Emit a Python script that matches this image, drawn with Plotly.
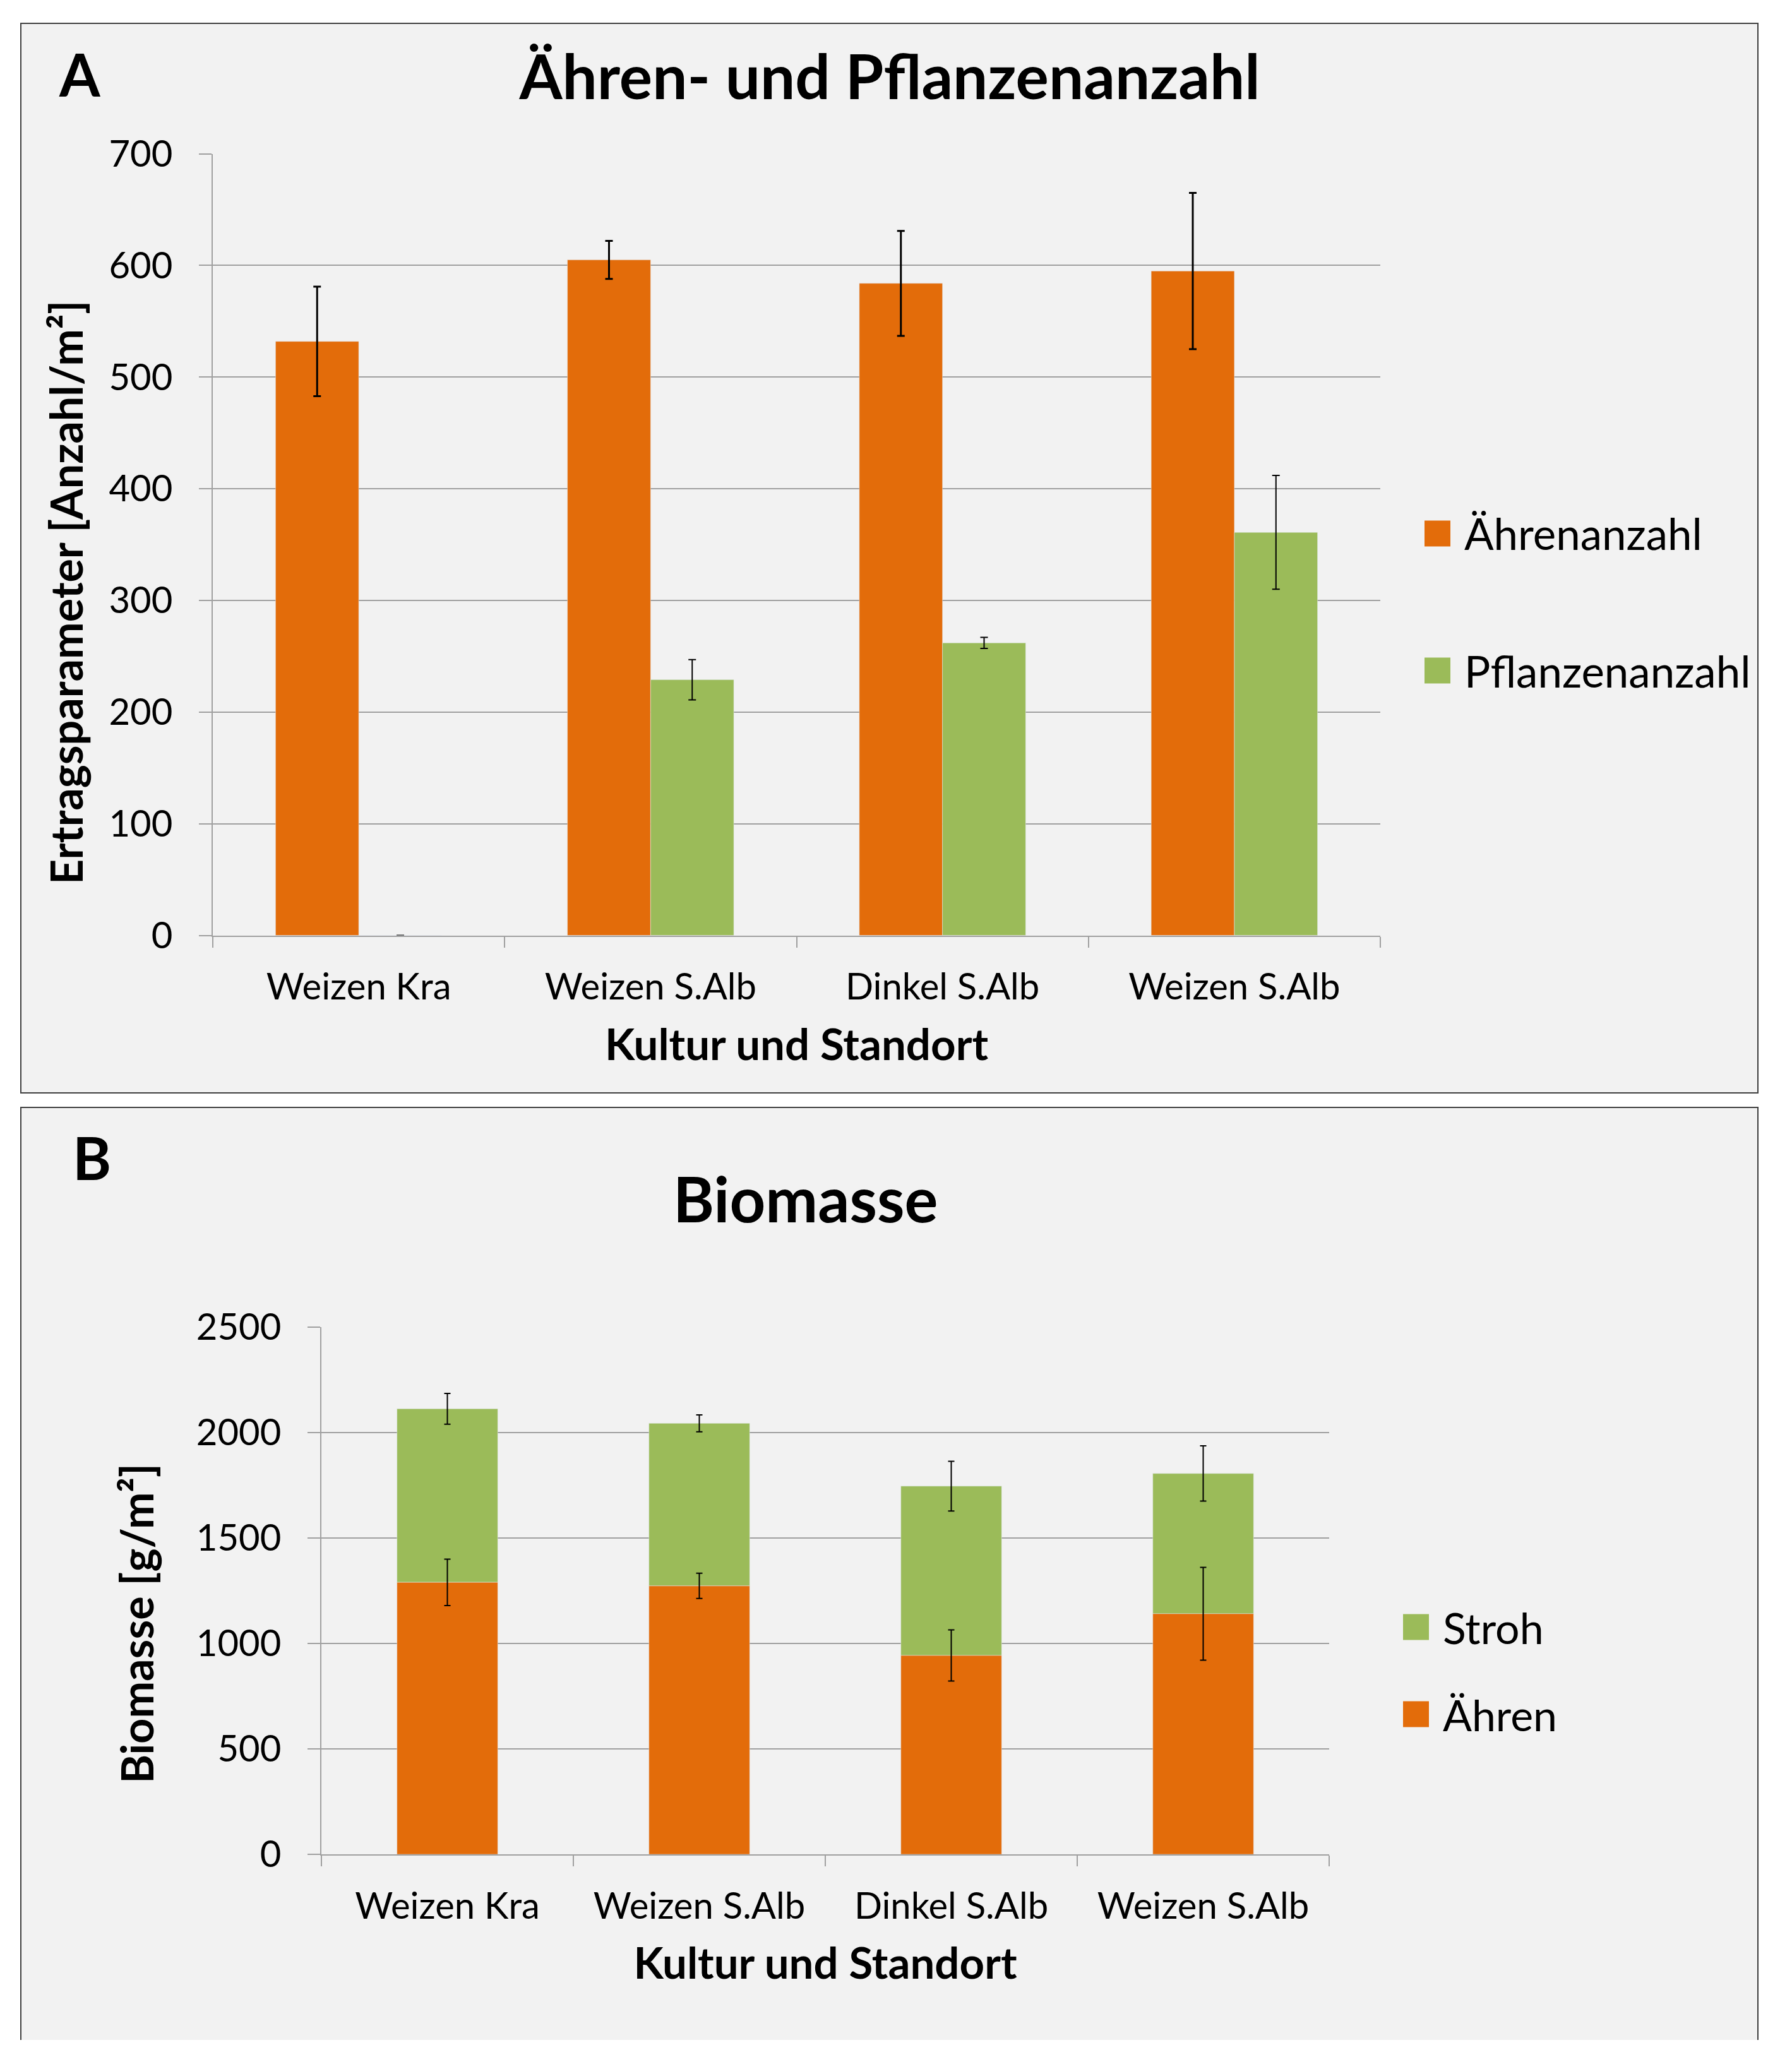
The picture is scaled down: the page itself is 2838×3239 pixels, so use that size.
import plotly.graph_objects as go

# ---------------- data ----------------
categories = ["Weizen Kra", "Weizen S.Alb", "Dinkel S.Alb", "Weizen S.Alb"]

aehrenanzahl = [532, 605, 584, 595]
aehrenanzahl_err = [49, 17, 47, 70]
pflanzenanzahl = [0, 229, 262, 361]
pflanzenanzahl_err = [0, 18, 5, 51]

biomasse_aehren = [1290, 1273, 943, 1141]
biomasse_aehren_err = [110, 60, 121, 220]
biomasse_stroh = [823, 771, 803, 665]
biomasse_stroh_err = [73, 40, 118, 131]

yticks_a = [0, 100, 200, 300, 400, 500, 600, 700]
yticks_b = [0, 500, 1000, 1500, 2000, 2500]

# ---------------- style ----------------
PAGE_W, PAGE_H = 2838, 3239
OFF = 8                       # default body margin of the html page
W, H = PAGE_W - 2 * OFF, PAGE_H - 2 * OFF
ORANGE = "#E36C0A"
GREEN = "#9BBB59"
GRID = "#a0a0a0"
PANEL = "#f2f2f2"
FONT = "Lato"


def px(x):
    """page pixel x -> paper fraction"""
    return (x - OFF) / W


def py(y):
    """page pixel y -> paper fraction"""
    return 1 - (y - OFF) / H


x_idx = list(range(len(categories)))
boundaries = [i - 0.5 for i in range(len(categories) + 1)]

fig = go.Figure()

# Panel A: grouped bars
fig.add_trace(go.Bar(
    x=x_idx, y=aehrenanzahl, name="Ährenanzahl", marker_color=ORANGE,
    width=0.285, offset=-0.285, showlegend=False,
    error_y=dict(type="data", array=aehrenanzahl_err, color="black", thickness=3, width=6),
    xaxis="x", yaxis="y"))
fig.add_trace(go.Bar(
    x=x_idx, y=pflanzenanzahl, name="Pflanzenanzahl", marker_color=GREEN,
    width=0.285, offset=0, showlegend=False,
    error_y=dict(type="data", array=pflanzenanzahl_err, color="black", thickness=2, width=6),
    xaxis="x", yaxis="y"))

# Panel B: stacked bars (Stroh drawn first so the Ähren error bars stay visible)
fig.add_trace(go.Bar(
    x=x_idx, y=biomasse_stroh, base=biomasse_aehren, name="Stroh", marker_color=GREEN,
    width=0.4, offset=-0.2, showlegend=False,
    error_y=dict(type="data", array=biomasse_stroh_err, color="black", thickness=2, width=5),
    xaxis="x2", yaxis="y2"))
fig.add_trace(go.Bar(
    x=x_idx, y=biomasse_aehren, name="Ähren", marker_color=ORANGE,
    width=0.4, offset=-0.2, showlegend=False,
    error_y=dict(type="data", array=biomasse_aehren_err, color="black", thickness=2, width=5),
    xaxis="x2", yaxis="y2"))

tickfont = dict(family=FONT, size=58, color="black")


def xaxis_cfg(domain, anchor, title):
    return dict(
        domain=domain, anchor=anchor, range=[-0.5, len(categories) - 0.5],
        tickmode="array", tickvals=x_idx, ticktext=categories, ticks="",
        tickfont=tickfont, ticklabelstandoff=30,
        showline=True, linecolor=GRID, linewidth=2,
        showgrid=False, zeroline=False,
        minor=dict(tickmode="array", tickvals=boundaries, ticks="outside",
                   ticklen=17, tickwidth=2, tickcolor=GRID, showgrid=False),
        title=dict(text=title, font=dict(family=FONT, size=69, color="black", weight="bold"),
                   standoff=36),
        automargin=False,
    )


def yaxis_cfg(domain, anchor, rng, ticks):
    return dict(
        domain=domain, anchor=anchor, range=rng,
        tickmode="array", tickvals=ticks, ticks="outside", ticklen=20,
        tickwidth=2, tickcolor=GRID,
        tickfont=tickfont, ticklabelstandoff=30,
        showline=True, linecolor=GRID, linewidth=2,
        showgrid=True, gridcolor=GRID, gridwidth=2, zeroline=False,
        automargin=False,
    )


# panel geometry (page pixels)
A_x0, A_x1, A_top, A_bot = 337, 2186, 243.6, 1481.6
B_x0, B_x1, B_top, B_bot = 509, 2105, 2102, 2937

shapes = [
    dict(type="rect", xref="paper", yref="paper", x0=px(33), x1=px(2784), y0=py(37), y1=py(1731),
         fillcolor=PANEL, line=dict(color="#404040", width=2), layer="below"),
    dict(type="rect", xref="paper", yref="paper", x0=px(33), x1=px(2784), y0=py(1754), y1=py(PAGE_H + 20),
         fillcolor=PANEL, line=dict(color="#404040", width=2), layer="below"),
]

legend_items = [
    ("Ährenanzahl", ORANGE, 2256, 845, 69),
    ("Pflanzenanzahl", GREEN, 2256, 1062, 69),
    ("Stroh", GREEN, 2222, 2577, 68),
    ("Ähren", ORANGE, 2222, 2715, 68),
]
annotations = [
    dict(text="A", x=px(91), y=py(117), xref="paper", yref="paper", xanchor="left", yanchor="middle",
         showarrow=False, font=dict(family=FONT, size=93, color="black", weight="bold")),
    dict(text="B", x=px(113), y=py(1833), xref="paper", yref="paper", xanchor="left", yanchor="middle",
         showarrow=False, font=dict(family=FONT, size=93, color="black", weight="bold")),
    dict(text="Biomasse", x=px(1275), y=py(1897), xref="paper", yref="paper", xanchor="center",
         yanchor="middle", showarrow=False, font=dict(family=FONT, size=99, color="black", weight="bold")),
    dict(text="Ertragsparameter [Anzahl/m²]", x=px(104), y=py(939), xref="paper", yref="paper",
         xanchor="center", yanchor="middle", textangle=-90, showarrow=False,
         font=dict(family=FONT, size=70, color="black", weight="bold")),
    dict(text="Biomasse [g/m²]", x=px(216), y=py(2572), xref="paper", yref="paper",
         xanchor="center", yanchor="middle", textangle=-90, showarrow=False,
         font=dict(family=FONT, size=70, color="black", weight="bold")),
]
for label, color, sx, cy, fs in legend_items:
    shapes.append(dict(type="rect", xref="paper", yref="paper", x0=px(sx), x1=px(sx + 41),
                       y0=py(cy + 20.5), y1=py(cy - 20.5), fillcolor=color, line=dict(width=0),
                       layer="above"))
    annotations.append(dict(text=label, x=px(sx + 61), y=py(cy), xref="paper", yref="paper",
                            xanchor="left", yanchor="middle", showarrow=False,
                            font=dict(family=FONT, size=fs, color="black")))

fig.update_layout(
    width=W, height=H,
    margin=dict(l=0, r=0, t=0, b=0),
    paper_bgcolor="white", plot_bgcolor=PANEL,
    barmode="overlay",
    font=dict(family=FONT, color="black"),
    title=dict(text="Ähren- und Pflanzenanzahl", x=px(1409), xanchor="center", xref="paper",
               y=py(123), yanchor="middle", yref="paper",
               font=dict(family=FONT, size=98, color="black", weight="bold")),
    xaxis=xaxis_cfg([px(A_x0), px(A_x1)], "y", "Kultur und Standort"),
    yaxis=yaxis_cfg([py(A_bot), py(A_top)], "x", [0, 700], yticks_a),
    xaxis2=xaxis_cfg([px(B_x0), px(B_x1)], "y2", "Kultur und Standort"),
    yaxis2=yaxis_cfg([py(B_bot), py(B_top)], "x2", [0, 2500], yticks_b),
    shapes=shapes,
    annotations=annotations,
)

fig.write_html("out.html")
